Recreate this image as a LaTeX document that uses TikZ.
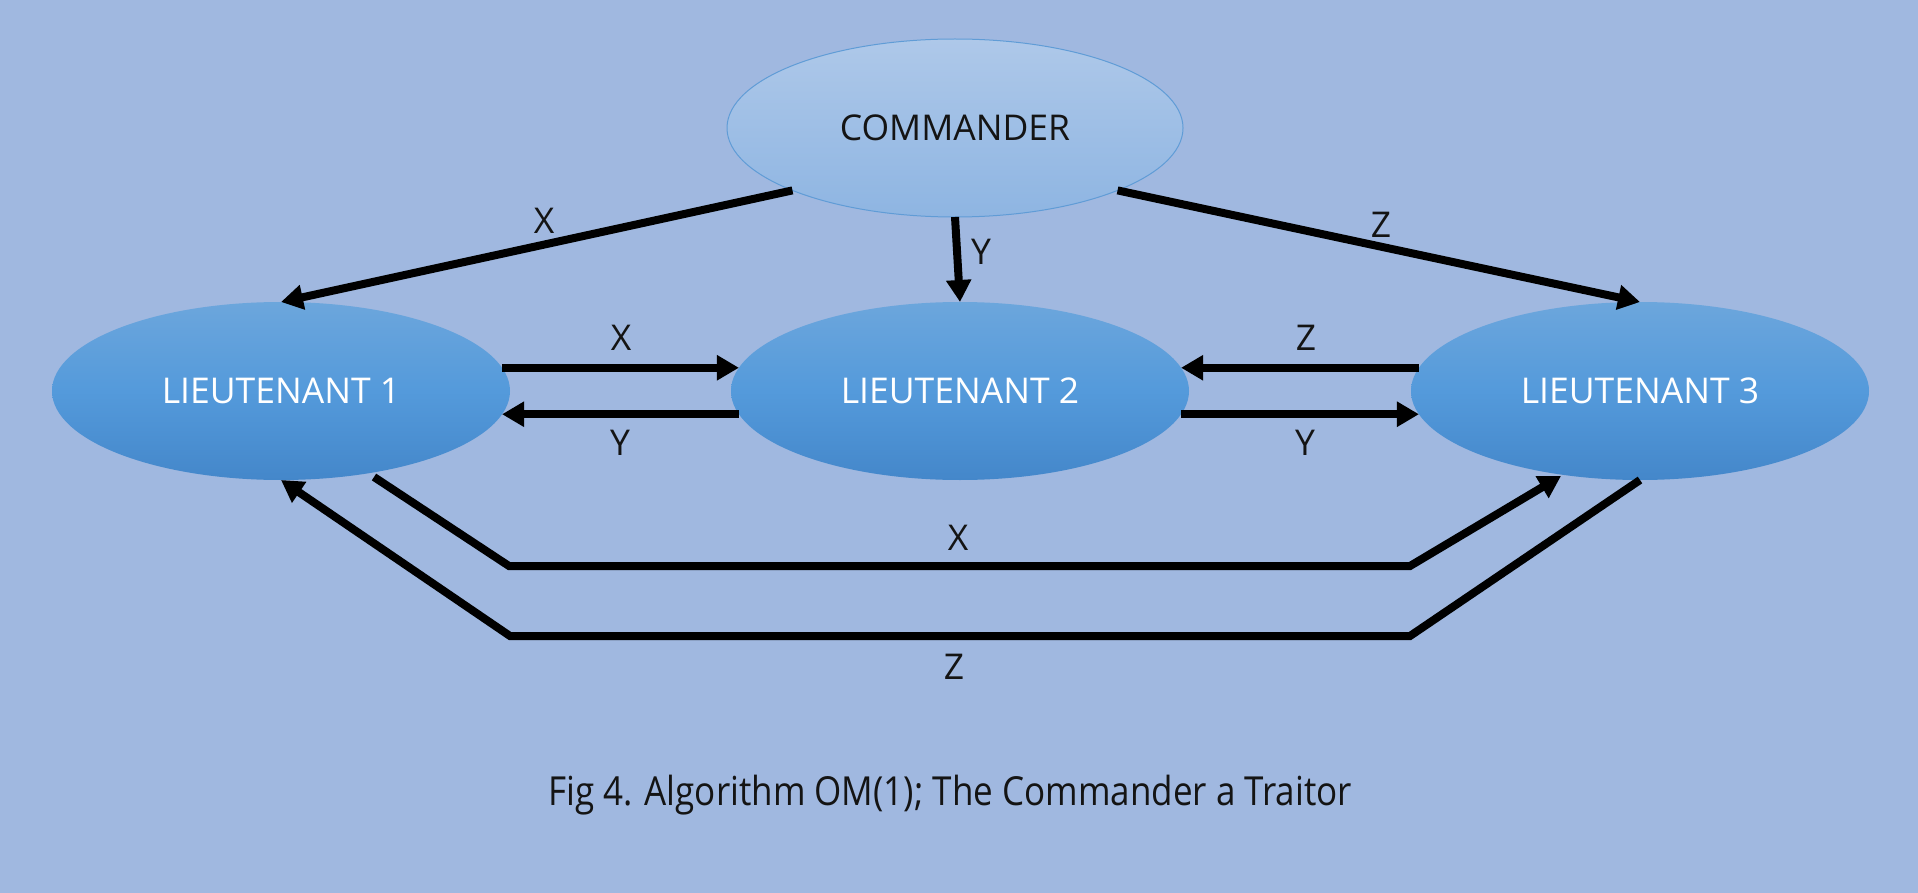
\documentclass[tikz,border=0pt]{standalone}
\usepackage{fontspec}
\setmainfont{Open Sans}
\usetikzlibrary{arrows.meta,shapes.geometric,calc}
\definecolor{bgc}{RGB}{160,184,224}
\definecolor{ltop}{RGB}{108,166,220}
\definecolor{lmid}{RGB}{84,154,219}
\definecolor{lbot}{RGB}{68,135,202}
\definecolor{ctop}{RGB}{174,200,233}
\definecolor{cbot}{RGB}{142,181,226}
\definecolor{cline}{RGB}{96,156,214}
\definecolor{ctext}{RGB}{20,20,20}
\tikzset{
  lnode/.style={ellipse, minimum width=458pt, minimum height=178pt, inner sep=0pt, outer sep=0pt,
    shading=axis, top color=ltop, bottom color=lbot, middle color=lmid, text=white,
    font=\fontsize{35.5}{40}\selectfont},
  cnode/.style={ellipse, minimum width=456pt, minimum height=178pt, inner sep=0pt, outer sep=0pt,
    shading=axis, top color=ctop, bottom color=cbot, draw=cline, line width=1pt, text=ctext,
    font=\fontsize{35.5}{40}\selectfont},
  msg/.style={line width=8pt, -{Triangle[length=22pt,width=24pt]}},
  lbl/.style={font=\fontsize{35.5}{40}\selectfont, text=ctext, inner sep=0pt},
  captext/.style={font=\fontsize{40}{46}\selectfont, text=ctext, inner sep=0pt}
}
\begin{document}
\begin{tikzpicture}[x=1pt,y=-1pt]
\fill[bgc] (0,0) rectangle (1918,893);
\useasboundingbox (0,0) rectangle (1918,893);
\node[cnode] (C) at (955,128) {COMMANDER};
\node[lnode] (L1) at (281,391) {LIEUTENANT 1};
\node[lnode] (L2) at (960,391) {LIEUTENANT 2};
\node[lnode] (L3) at (1640,391) {LIEUTENANT 3};
% commander messages
\draw[msg] (C.201) -- (L1.north);
\draw[msg] (C.south) -- (L2.north);
\draw[msg] (C.339) -- (L3.north);
% lieutenant exchanges
\draw[msg] (L1.6) -- (L2.174);
\draw[msg] (L2.186) -- (L1.354);
\draw[msg] (L3.174) -- (L2.6);
\draw[msg] (L2.354) -- (L3.186);
% bottom routes
\coordinate (xa) at (509,566);
\coordinate (xb) at (1410,566);
\coordinate (za) at (1410,636);
\coordinate (zb) at (510,636);
\draw[msg] ($(L1)+(93,86)$) -- (xa) -- (xb) -- ($(L3)+(-79,85)$);
\draw[msg] (L3.south) -- (za) -- (zb) -- (L1.south);
% labels
\node[lbl] (lx1) at (544,221) {X};
\node[lbl] (ly1) at (981,252) {Y};
\node[lbl] (lz1) at (1381,225) {Z};
\node[lbl] (lx2) at (621,338) {X};
\node[lbl] (ly2) at (620,443) {Y};
\node[lbl] (lz2) at (1306,338) {Z};
\node[lbl] (ly3) at (1305,443) {Y};
\node[lbl] (lx3) at (958,538) {X};
\node[lbl] (lz3) at (954,667) {Z};
\node[captext] (caption) at (950,795) {\scalebox{0.875}[1]{Fig 4. Algorithm OM(1); The Commander a Traitor}};
\end{tikzpicture}
\end{document}
